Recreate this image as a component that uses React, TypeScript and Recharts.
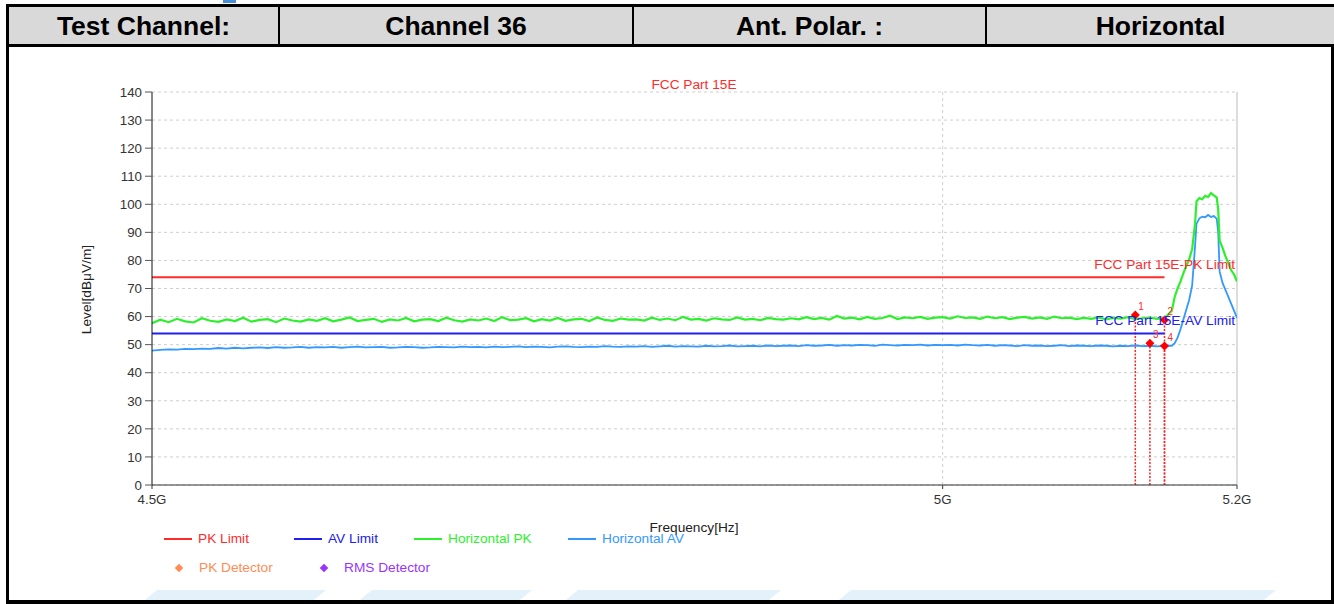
import { CartesianGrid, ComposedChart, Line, ReferenceLine, Scatter, XAxis, YAxis } from "recharts"

// sweep points, MHz
const freqMHz = [
  4500, 4505, 4510, 4515, 4520, 4525, 4530, 4535, 4540, 4545,
  4550, 4555, 4560, 4565, 4570, 4575, 4580, 4585, 4590, 4595,
  4600, 4605, 4610, 4615, 4620, 4625, 4630, 4635, 4640, 4645,
  4650, 4655, 4660, 4665, 4670, 4675, 4680, 4685, 4690, 4695,
  4700, 4705, 4710, 4715, 4720, 4725, 4730, 4735, 4740, 4745,
  4750, 4755, 4760, 4765, 4770, 4775, 4780, 4785, 4790, 4795,
  4800, 4805, 4810, 4815, 4820, 4825, 4830, 4835, 4840, 4845,
  4850, 4855, 4860, 4865, 4870, 4875, 4880, 4885, 4890, 4895,
  4900, 4905, 4910, 4915, 4920, 4925, 4930, 4935, 4940, 4945,
  4950, 4955, 4960, 4965, 4970, 4975, 4980, 4985, 4990, 4995,
  5000, 5005, 5010, 5015, 5020, 5025, 5030, 5035, 5040, 5045,
  5050, 5055, 5060, 5065, 5070, 5075, 5080, 5085, 5090, 5095,
  5100, 5105, 5110, 5115, 5120, 5125, 5130, 5135, 5140, 5145,
  5150,
  5155, 5157, 5159, 5161, 5163, 5165, 5167, 5169, 5171, 5172,
  5174, 5176, 5178, 5180, 5182, 5184, 5186, 5187, 5188, 5190,
  5192, 5194, 5196, 5198, 5200,
]

const horizontalPK = [
  57.6, 58.9, 58.0, 59.2, 58.3, 57.9, 59.4, 58.5, 58.1, 59.0, 58.4, 59.6, 58.2, 58.8, 59.1, 58.0, 59.3, 58.6, 58.2, 59.0,
  58.5, 59.4, 58.3, 58.9, 59.7, 58.4, 58.8, 59.2, 58.1, 59.0, 58.6, 59.5, 58.3, 58.9, 59.1, 58.4, 59.6, 58.7, 58.2, 59.0,
  58.6, 59.3, 58.4, 59.8, 58.7, 58.9, 59.4, 58.3, 59.1, 58.6, 59.5, 58.5, 59.0, 59.2, 58.4, 59.7, 58.8, 58.5, 59.3, 58.9,
  59.0, 58.6, 59.6, 58.8, 59.3, 58.7, 59.9, 58.9, 59.2, 58.6, 59.4, 59.0, 58.8, 59.7, 58.9, 59.2, 58.7, 59.5, 59.1, 58.9,
  59.4, 59.0, 59.8, 59.1, 59.5, 58.9, 60.2, 59.3, 59.6, 59.0, 59.9, 59.2, 59.5, 60.3, 59.1, 59.7, 59.4, 59.9, 59.2, 59.6,
  59.8, 59.3, 60.1, 59.5, 59.7, 59.2, 60.0, 59.4, 59.8, 59.1, 59.6, 59.9, 59.3, 59.7, 59.2, 60.0, 59.4, 59.6, 59.1, 59.5,
  59.2, 59.7, 59.0, 59.5, 59.3, 59.8, 59.1, 59.4, 59.6, 59.2, 59.5,
  62, 67, 70, 72.5, 75.5, 78, 80.5, 84, 93, 101,
  102.2, 101.8, 103, 102.6, 104, 103.2, 102.4, 98, 87, 84.5,
  81.5, 79, 76.5, 75, 72.5,
]

const horizontalAV = [
  47.9, 48.1, 48.3, 48.2, 48.5, 48.4, 48.6, 48.5, 48.8, 48.6, 48.9, 48.7, 48.9, 49.0, 48.8, 49.1, 48.9, 49.0, 49.2, 48.9,
  49.1, 49.0, 49.2, 48.9, 49.1, 49.3, 49.0, 49.1, 49.2, 48.9, 49.0, 49.2, 49.1, 48.9, 49.0, 49.2, 49.1, 49.0, 49.3, 49.1,
  49.2, 49.0, 49.3, 49.1, 49.2, 49.4, 49.1, 49.3, 49.2, 49.0, 49.3, 49.4, 49.2, 49.1, 49.3, 49.2, 49.5, 49.3, 49.2, 49.4,
  49.3, 49.5, 49.2, 49.4, 49.6, 49.3, 49.5, 49.4, 49.3, 49.6, 49.4, 49.5, 49.7, 49.4, 49.5, 49.6, 49.4, 49.7, 49.5, 49.6,
  49.7, 49.5, 49.8, 49.6, 49.7, 49.9, 49.6, 49.8, 49.7, 49.9, 49.8, 49.6, 50.0, 49.8, 49.7, 49.9, 49.8, 50.0, 49.7, 49.9,
  49.8, 49.9, 49.7, 50.0, 49.8, 49.7, 49.9, 49.6, 49.8, 49.7, 49.5, 49.8, 49.6, 49.7, 49.5, 49.6, 49.8, 49.5, 49.7, 49.6,
  49.5, 49.7, 49.6, 49.4, 49.6, 49.5, 49.7, 49.5, 49.6, 49.4, 49.6,
  49.6, 50.5, 52.5, 55.5, 59, 62.5, 66, 71, 85, 93,
  95, 95.6, 95.4, 96.2, 95.5, 95.8, 94.8, 90, 76, 72,
  69.5, 67, 64.5, 62, 59.5,
]

const limitFreqs = [4500, 5150]
const pkLimit = [74, 74]
const avLimit = [54, 54]

const markerNo = [1, 2, 3, 4]
const markerFreq = [5130, 5150, 5140, 5150]
const markerLevel = [60.6, 58.8, 50.5, 49.5]

const yTicks = [0, 10, 20, 30, 40, 50, 60, 70, 80, 90, 100, 110, 120, 130, 140]
const xTicks = [4500, 5000, 5200]
const xTickLabels = ["4.5G", "5G", "5.2G"]

const headerCells = ["Test Channel:", "Channel 36", "Ant. Polar. :", "Horizontal"]

const trace = freqMHz.map((f, i) => ({ f, pk: horizontalPK[i], av: horizontalAV[i] }))
const pkLimitData = limitFreqs.map((f, i) => ({ f, v: pkLimit[i] }))
const avLimitData = limitFreqs.map((f, i) => ({ f, v: avLimit[i] }))
const markers = markerNo.map((n, i) => ({ n, f: markerFreq[i], v: markerLevel[i] }))

const FONT = "'Liberation Sans', Arial, sans-serif"
const RED = "#ff2b2b"
const AV_BLUE = "#2020f0"
const GREEN = "#2cf02c"
const LIGHT_BLUE = "#3399ff"
const TXT = 13.7

function MarkerShape(props: any) {
  const { cx, cy, payload } = props
  if (cx == null || cy == null) return null
  return (
    <g>
      <path d={`M${cx} ${cy - 4.5} L${cx + 4.5} ${cy} L${cx} ${cy + 4.5} L${cx - 4.5} ${cy} Z`} fill="#ff0000" />
      <text x={cx + 3} y={cy - 5} fontSize={10} fill={RED} fontFamily={FONT}>
        {payload.n}
      </text>
    </g>
  )
}

const abs = (left: number, top: number, extra: any = {}) => ({
  position: "absolute" as const,
  left,
  top,
  ...extra,
})

function LegendItem({ x, y, color, label, diamond }: { x: number; y: number; color: string; label: string; diamond?: boolean }) {
  return (
    <>
      {diamond ? (
        <div style={abs(x - 3, y - 3, { width: 6, height: 6, background: color, transform: "rotate(45deg)" })} />
      ) : (
        <div style={abs(x, y - 1, { width: 28, height: 2, background: color })} />
      )}
      <div style={abs(diamond ? x + 20 : x + 34, y - 9, { color, fontSize: TXT, lineHeight: "17px", whiteSpace: "nowrap" })}>
        {label}
      </div>
    </>
  )
}

export default function App() {
  const colEdges = [8, 278, 632, 985, 1334]
  return (
    <div style={abs(0, 0, { width: 1334, height: 604, background: "#fff", fontFamily: FONT, overflow: "hidden" })}>
      {/* header row */}
      <div style={abs(8, 4, { width: 1326, height: 43, background: "#000" })} />
      {headerCells.map((c, i) => (
        <div
          key={c}
          style={abs(colEdges[i] + (i === 0 ? 1 : 2), 7, {
            width: colEdges[i + 1] - colEdges[i] - (i === 0 ? 1 : 2),
            height: 37,
            background: "#d9d9d9",
            display: "flex",
            alignItems: "center",
            justifyContent: "center",
            fontWeight: "bold",
            fontSize: 26.5,
            color: "#000",
            paddingTop: 2,
            boxSizing: "border-box",
          })}
        >
          {c}
        </div>
      ))}
      <div style={abs(6, 4, { width: 3, height: 600, background: "#000" })} />
      <div style={abs(6, 600, { width: 1328, height: 4, background: "#000" })} />
      <div style={abs(1331, 47, { width: 3, height: 557, background: "#000" })} />
      <div style={abs(223, 0, { width: 13, height: 3, background: "#4a90d9" })} />
      {[
        [157, 326],
        [372, 532],
        [578, 781],
        [851, 1276],
      ].map(([a, b]) => (
        <div
          key={a}
          style={abs(a - 12, 590, {
            width: b - a + 12,
            height: 10,
            background: "#e3f1fb",
            clipPath: "polygon(12px 0, 100% 0, calc(100% - 12px) 100%, 0 100%)",
          })}
        />
      ))}

      <div style={abs(0, 0)}>
        <ComposedChart width={1334} height={604} data={trace} margin={{ top: 92, right: 97, bottom: 89, left: 0 }}>
          <CartesianGrid vertical={false} stroke="#cfcfcf" strokeDasharray="3 3" />
          <XAxis
            dataKey="f"
            type="number"
            scale="log"
            domain={[4500, 5200]}
            ticks={xTicks}
            tickFormatter={(v: number) => xTickLabels[xTicks.indexOf(v)] ?? ""}
            allowDataOverflow
            height={30}
            stroke="#333"
            tickSize={4}
            tickMargin={6}
            tick={{ fontSize: 13.3, fill: "#333", fontFamily: FONT }}
          />
          <YAxis
            type="number"
            domain={[0, 140]}
            ticks={yTicks}
            width={152}
            stroke="#111"
            tickLine={{ stroke: "#555" }}
            tickSize={7}
            tickMargin={3}
            tick={{ fontSize: 13.3, fill: "#333", fontFamily: FONT }}
            interval={0}
          />
          <ReferenceLine x={5000} stroke="#cfcfcf" strokeDasharray="3 3" />
          <ReferenceLine x={5200} stroke="#bbb" />
          {markers.map((m) => (
            <ReferenceLine
              key={m.n}
              segment={[
                { x: m.f, y: 0 },
                { x: m.f, y: m.v },
              ]}
              stroke="#ff2222"
              strokeWidth={1.5}
              strokeDasharray="2 1.5"
            />
          ))}
          <Line data={pkLimitData} dataKey="v" stroke={RED} strokeWidth={2} dot={false} isAnimationActive={false} />
          <Line data={avLimitData} dataKey="v" stroke={AV_BLUE} strokeWidth={2} dot={false} isAnimationActive={false} />
          <Line dataKey="av" stroke={LIGHT_BLUE} strokeWidth={1.8} dot={false} isAnimationActive={false} />
          <Line dataKey="pk" stroke={GREEN} strokeWidth={2.2} dot={false} isAnimationActive={false} />
          <Scatter data={markers} dataKey="v" shape={MarkerShape} isAnimationActive={false} />
        </ComposedChart>
      </div>

      {/* titles and labels */}
      <div style={abs(0, 76, { width: 1388, textAlign: "center", color: RED, fontSize: TXT, lineHeight: "17px" })}>
        FCC Part 15E
      </div>
      <div style={abs(900, 256, { width: 335, textAlign: "right", color: RED, fontSize: TXT, lineHeight: "17px" })}>
        FCC Part 15E-PK Limit
      </div>
      <div style={abs(900, 312, { width: 335, textAlign: "right", color: AV_BLUE, fontSize: TXT, lineHeight: "17px" })}>
        FCC Part 15E-AV Limit
      </div>
      <div
        style={abs(36, 281, {
          width: 100,
          textAlign: "center",
          fontSize: TXT,
          lineHeight: "17px",
          color: "#222",
          transform: "rotate(-90deg)",
        })}
      >
        Level[dBμV/m]
      </div>
      <div style={abs(594, 519, { width: 200, textAlign: "center", fontSize: TXT, lineHeight: "17px", color: "#222" })}>
        Frequency[Hz]
      </div>

      {/* legend */}
      <LegendItem x={164} y={539} color={RED} label="PK Limit" />
      <LegendItem x={294} y={539} color={AV_BLUE} label="AV Limit" />
      <LegendItem x={414} y={539} color={GREEN} label="Horizontal PK" />
      <LegendItem x={568} y={539} color={LIGHT_BLUE} label="Horizontal AV" />
      <LegendItem x={179} y={568} color="#ff8c55" label="PK Detector" diamond />
      <LegendItem x={324} y={568} color="#9933ff" label="RMS Detector" diamond />
    </div>
  )
}
